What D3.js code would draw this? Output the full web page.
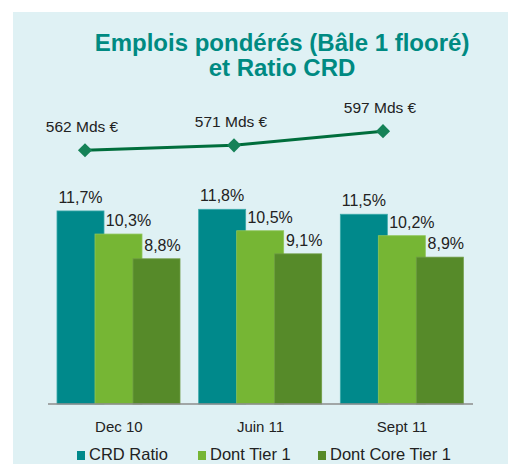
<!DOCTYPE html>
<html>
<head>
<meta charset="utf-8">
<script src="https://cdn.jsdelivr.net/npm/d3@7"></script>
<style>
  body { margin: 0; background: #fff; }
  svg { display: block; font-family: "Liberation Sans", Arial, sans-serif; }
</style>
</head>
<body>
<svg id="chart" width="508" height="464"></svg>
<script>
// Data
const categories = ['Dec 10', 'Juin 11', 'Sept 11'];
const seriesNames = ['CRD Ratio', 'Dont Tier 1', 'Dont Core Tier 1'];
const crdRatio = [11.7, 11.8, 11.5];
const tier1 = [10.3, 10.5, 10.2];
const coreTier1 = [8.8, 9.1, 8.9];
const rwaValues = [562, 571, 597]; // Mds €
const titleLines = ['Emplois pondérés (Bâle 1 flooré)', 'et Ratio CRD'];

const seriesValues = [crdRatio, tier1, coreTier1];
const colors = ['#00898B', '#76B634', '#568A29'];
const borders = ['#3aa9aa', '#8fc55a', '#6f9c45'];
const labelShift = [0, 10, 6]; // labels sit a little right of overlapped bars

const svg = d3.select('#chart');

// Panel background
svg.append('rect')
  .attr('x', 13).attr('y', 12)
  .attr('width', 495).attr('height', 452)
  .style('fill', '#DFF1F4');

// Title
svg.append('text')
  .attr('x', 282).attr('y', 51)
  .attr('text-anchor', 'middle')
  .style('font-size', '24px')
  .style('font-weight', 'bold')
  .style('fill', '#008A82')
  .selectAll('tspan')
  .data(titleLines)
  .join('tspan')
  .attr('x', 282)
  .attr('dy', (d, i) => (i === 0 ? 0 : 25))
  .text((d) => d);

// Scales for bars
const baseline = 404;
const x0 = d3.scaleBand().domain(categories).range([48, 473]).padding(0);
const x1 = d3.scalePoint().domain(seriesNames).range([9, 85]);
const barWidth = 47;
const y = d3.scaleLinear().domain([0, 12]).range([baseline, baseline - 198]);

const barGroups = svg.append('g').attr('class', 'bars');

seriesNames.forEach((name, si) => {
  const g = barGroups.append('g').attr('class', 'series');
  const rows = categories.map((c, ci) => ({ cat: c, value: seriesValues[si][ci] }));

  g.selectAll('rect')
    .data(rows)
    .join('rect')
    .attr('x', (d) => x0(d.cat) + x1(name))
    .attr('y', (d) => y(d.value))
    .attr('width', barWidth)
    .attr('height', (d) => baseline - y(d.value))
    .style('fill', colors[si])
    .style('stroke', borders[si])
    .style('stroke-width', 0.8);

  g.selectAll('text')
    .data(rows)
    .join('text')
    .attr('x', (d) => x0(d.cat) + x1(name) + barWidth / 2 + labelShift[si])
    .attr('y', (d) => y(d.value) - 8)
    .attr('text-anchor', 'middle')
    .style('font-size', '16px')
    .style('fill', '#222')
    .text((d) => d.value.toFixed(1).replace('.', ',') + '%');
});

// Category axis
const xAxis = svg.append('g')
  .attr('transform', `translate(0,${baseline})`)
  .call(d3.axisBottom(x0).tickSize(0).tickPadding(17));
xAxis.select('.domain')
  .attr('d', `M48,0H473`)
  .style('stroke', '#8c8c8c')
  .style('stroke-width', 1.5);
xAxis.selectAll('text')
  .style('font-size', '15px')
  .style('font-family', '"Liberation Sans", Arial, sans-serif')
  .style('fill', '#222');

// RWA line (its own scale, floating above the bars)
const xl = d3.scalePoint().domain(categories).range([85, 383]);
const yl = d3.scaleLinear().domain([500, 700]).range([184, 75]);
const line = d3.line()
  .x((d, i) => xl(categories[i]))
  .y((d) => yl(d));

svg.append('path')
  .datum(rwaValues)
  .attr('d', line)
  .style('fill', 'none')
  .style('stroke', '#006E3C')
  .style('stroke-width', 3);

svg.append('g')
  .selectAll('path')
  .data(rwaValues)
  .join('path')
  .attr('d', d3.symbol(d3.symbolSquare, 100))
  .attr('transform', (d, i) => `translate(${xl(categories[i])},${yl(d)}) rotate(45)`)
  .style('fill', '#158257');

svg.append('g')
  .selectAll('text')
  .data(rwaValues)
  .join('text')
  .attr('x', (d, i) => xl(categories[i]) - 3)
  .attr('y', (d) => yl(d) - 18)
  .attr('text-anchor', 'middle')
  .style('font-size', '15.5px')
  .style('fill', '#222')
  .text((d) => `${d} Mds €`);

// Legend
const legendX = [77, 198, 318];
const legend = svg.append('g')
  .selectAll('g')
  .data(seriesNames)
  .join('g')
  .attr('transform', (d, i) => `translate(${legendX[i]},451)`);
legend.append('rect')
  .attr('width', 8).attr('height', 9)
  .style('fill', (d, i) => colors[i]);
legend.append('text')
  .attr('x', 12).attr('y', 9)
  .style('font-size', '16.5px')
  .style('fill', '#222')
  .text((d) => d);
</script>
</body>
</html>
